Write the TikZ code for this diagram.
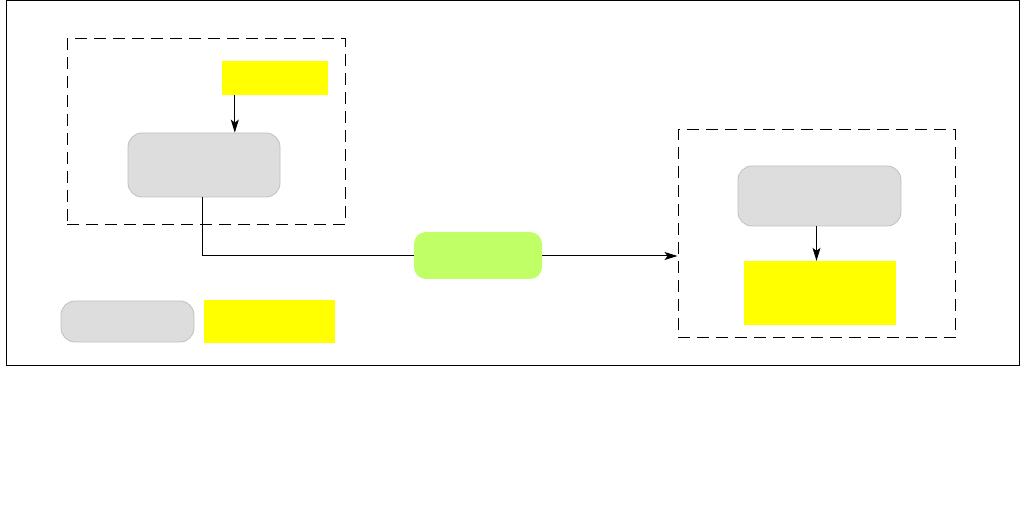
\documentclass[tikz,border=0pt]{standalone}
\usetikzlibrary{arrows.meta}
\definecolor{boxgray}{HTML}{DDDDDD}
\definecolor{boxgrayline}{HTML}{C0C0C0}
\definecolor{greenfill}{HTML}{C0FF66}
\definecolor{yellowfill}{HTML}{FFFF00}
\begin{document}
\begin{tikzpicture}[x=1pt,y=-1pt,
  graybox/.style={draw=boxgrayline,fill=boxgray,line width=0.8pt,rounded corners=14pt,inner sep=0pt},
  yellowbox/.style={fill=yellowfill,draw=none,inner sep=0pt},
  greenbox/.style={fill=greenfill,draw=none,rounded corners=12pt,inner sep=0pt},
  groupbox/.style={draw=black,line width=1pt,dash pattern=on 12pt off 7pt,inner sep=0pt},
  arr/.style={-{Stealth[length=13pt,width=8pt,inset=3pt]},line width=1pt}]
\useasboundingbox (0,0) rectangle (1026,521);
\draw[line width=1pt] (6.5,0.5) rectangle (1019,366);
% groups
\node[groupbox,minimum width=278pt,minimum height=186pt] (lbox) at (206,132) {};
\node[groupbox,minimum width=277pt,minimum height=208pt] (rbox) at (816.5,234) {};
% left group
\node[yellowbox,minimum width=106pt,minimum height=34pt] (yL) at (275,78) {};
\node[graybox,minimum width=152pt,minimum height=64pt] (gL) at (204,165) {};
% right group
\node[graybox,minimum width=163pt,minimum height=60pt] (gR) at (819.5,196) {};
\node[yellowbox,minimum width=152pt,minimum height=64pt] (yR) at (820,293) {};
% legend
\node[graybox,minimum width=133pt,minimum height=41pt] (legG) at (127.5,321.5) {};
\node[yellowbox,minimum width=131pt,minimum height=43pt] (legY) at (269.5,321.5) {};
% connectors
\coordinate (aL) at ([xshift=13pt]yL.south west);
\draw[arr] (aL) -- (aL |- gL.north);
\draw[line width=1pt] ([xshift=-2pt]gL.south) |- (414,256) coordinate (gin);
\coordinate (rin) at (rbox.west |- gin);
\draw[arr] (gin) -- (rin);
\node[greenbox,minimum width=128pt,minimum height=47pt] (green) at (478,255.5) {};
\coordinate (aR) at ([xshift=-3pt]gR.south);
\draw[arr] (aR) -- (aR |- yR.north);
\end{tikzpicture}
\end{document}
